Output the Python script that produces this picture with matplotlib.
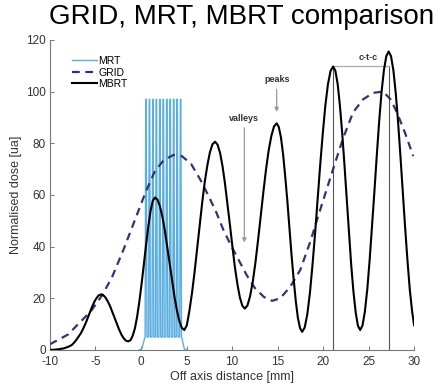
import matplotlib
matplotlib.use("Agg")
import matplotlib.pyplot as plt

plt.rcParams["font.family"] = ["Liberation Sans", "DejaVu Sans"]
plt.rcParams["axes.unicode_minus"] = False

# MBRT profile (black)
mbrt_x = [-10, -9.5, -9, -8.5, -8, -7.6, -7.3, -7.0, -6.6, -6.3, -6.0, -5.7, -5.4,
          -5.1, -4.9, -4.65, -4.4, -4.15, -3.9, -3.65, -3.4, -3.15, -2.9, -2.65,
          -2.4, -2.15, -1.9, -1.65, -1.4, -1.15, -0.91, -0.66, -0.42, -0.17, 0.08,
          0.32, 0.57, 0.81, 1.06, 1.3, 1.55, 1.82, 2.08, 2.35, 2.62, 2.88, 3.15,
          3.42, 3.68, 3.95, 4.22, 4.48, 4.75, 5.03, 5.31, 5.6, 5.88, 6.16, 6.44,
          6.72, 7.0, 7.29, 7.57, 7.85, 8.13, 8.4, 8.68, 8.95, 9.22, 9.49, 9.77,
          10.04, 10.31, 10.59, 10.86, 11.13, 11.4, 11.69, 11.98, 12.28, 12.57,
          12.86, 13.15, 13.44, 13.73, 14.02, 14.32, 14.61, 14.9, 15.13, 15.37,
          15.6, 15.83, 16.07, 16.3, 16.53, 16.77, 17.0, 17.23, 17.47, 17.7,
          17.98, 18.27, 18.55, 18.83, 19.12, 19.4, 19.68, 19.97, 20.25, 20.53,
          20.82, 21.1, 21.35, 21.6, 21.84, 22.09, 22.34, 22.59, 22.83, 23.08,
          23.33, 23.58, 23.82, 24.07, 24.33, 24.59, 24.85, 25.11, 25.37, 25.64,
          25.9, 26.16, 26.42, 26.68, 26.94, 27.2, 27.46, 27.72, 27.97, 28.23,
          28.49, 28.75, 29.01, 29.27, 29.52, 29.78, 30]
mbrt_y = [0, 0.1, 0.3, 0.6, 1.2, 1.9, 3.0, 4.4, 6.5, 8.6, 11, 13.8, 16.5,
          18.8, 20.0, 21.1, 21.5, 21.2, 20.3, 18.8, 17.0, 14.7, 12.4, 10.1,
          7.85, 5.95, 4.5, 3.6, 3.3, 3.8, 5.5, 8.5, 13, 19, 26,
          33.5, 41, 48, 54, 57.8, 59, 58.1, 55.6, 51.5, 46.2, 40.0, 33.4,
          26.7, 20.5, 15.2, 11.1, 8.6, 7.7, 9.5, 15, 22, 30, 39, 48,
          57, 65, 71.5, 76.5, 79.6, 80.6, 79.5, 76.3, 71.2, 64.5, 56.6, 48.3,
          40.0, 32.1, 25.4, 20.3, 17.1, 16, 17.2, 20.8, 26.5, 33.9,
          42.6, 51.9, 61.1, 69.8, 77.2, 82.9, 86.5, 87.7, 86.3, 82.3,
          75.9, 67.5, 57.8, 47.4, 36.9, 27.2, 18.9, 12.4, 8.4, 7,
          8.7, 13.9, 22.0, 32.7, 45.1, 58.4, 71.6, 84.0, 94.7, 102.8,
          108.0, 109.7, 108.0, 102.9, 94.8, 84.2, 71.9, 58.7, 45.5, 33.2,
          22.6, 14.5, 9.4, 7.7, 9.5, 14.9, 23.4, 34.7, 47.7, 61.6,
          75.5, 88.6, 99.8, 108.3, 113.7, 115.5, 113.7, 108.2, 99.7, 88.4,
          75.2, 61.3, 47.3, 34.4, 23.4, 14.8, 9.5]

# GRID profile (dashed)
grid_x = [-10, -8, -6.9, -5.5, -4.3, -3.2, -1.9, -0.7, 0.5, 1.5, 2.5, 3.6, 4.5,
          5.5, 6.5, 7.5, 8.3, 9.1, 10.1, 11.0, 11.6, 12.5, 13.5, 14.4, 15.3,
          16.4, 17.5, 18.6, 19.3, 20.2, 21.1, 22.2, 23.3, 24.4, 25.5, 26.6,
          27.4, 28.1, 29.0, 29.9]
grid_y = [2.2, 6, 10, 15, 21, 28, 39, 50, 61, 69, 73.5, 75.5, 75, 72, 66, 59,
          53, 46, 39, 33, 29, 24, 20.5, 19, 20, 24.5, 31, 42, 50, 60, 70, 82,
          92, 97, 99.5, 100, 97, 92, 84, 75]

# MRT microbeams
mrt_centers = [0.55, 0.93, 1.31, 1.69, 2.07, 2.45, 2.83, 3.21, 3.59, 3.97, 4.35]
mrt_peak = 97
mrt_valley = 5

mrt_x = [-0.2, 0.1, 0.4]
mrt_y = [0, 0.5, 4.5]
for c in mrt_centers:
    mrt_x += [c - 0.1, c - 0.025, c + 0.025, c + 0.1]
    mrt_y += [mrt_valley, mrt_peak, mrt_peak, mrt_valley]
mrt_x += [4.5, 4.75, 5.0]
mrt_y += [4.5, 0.5, 0]

ctc_left, ctc_right, ctc_level = 21.1, 27.2, 110

fig = plt.figure(figsize=(4.42, 3.91), dpi=100)
ax = fig.add_axes([0.113, 0.105, 0.824, 0.793])

ax.plot(mrt_x, mrt_y, color="#5aaee0", lw=1.0, label="MRT", zorder=2)
ax.plot(grid_x, grid_y, color="#2e3577", lw=1.6, dashes=(3.5, 2.5),
        label="GRID", zorder=3)
ax.plot(mbrt_x, mbrt_y, color="black", lw=1.5, label="MBRT", zorder=4,
        solid_joinstyle="round")

# centre-to-centre marker
ax.plot([ctc_left, ctc_left], [0, ctc_level], color="#555555", lw=0.8, zorder=1)
ax.plot([ctc_right, ctc_right], [0, ctc_level], color="#555555", lw=0.8, zorder=1)
ax.plot([ctc_left, ctc_right], [ctc_level, ctc_level], color="#aaaaaa", lw=0.9,
        zorder=1)
ax.text(25.0, 111.5, "c-t-c", fontsize=6.5, fontweight="bold", color="#333333",
        ha="center", va="bottom")

ax.annotate("", xy=(11.35, 40.5), xytext=(11.35, 87),
            arrowprops=dict(arrowstyle="-|>", color="#999999", lw=0.9,
                            mutation_scale=6))
ax.text(11.35, 88, "valleys", fontsize=6.5, fontweight="bold", color="#333333",
        ha="center", va="bottom")
ax.annotate("", xy=(14.9, 91), xytext=(14.9, 102),
            arrowprops=dict(arrowstyle="-|>", color="#999999", lw=0.9,
                            mutation_scale=6))
ax.text(14.9, 103, "peaks", fontsize=6.5, fontweight="bold", color="#333333",
        ha="center", va="bottom")

ax.set_xlim(-10, 30)
ax.set_ylim(0, 120)
ax.set_xticks(range(-10, 31, 5))
ax.set_yticks(range(0, 121, 20))
ax.spines["top"].set_visible(False)
ax.spines["right"].set_visible(False)
for s in ("left", "bottom"):
    ax.spines[s].set_color("#777777")
    ax.spines[s].set_linewidth(0.8)
ax.tick_params(direction="in", length=3, width=0.7, color="#777777",
               labelsize=8.5, labelcolor="#333333", pad=3)
ax.tick_params(axis="x", pad=4.5)
ax.set_xlabel("Off axis distance [mm]", fontsize=9, color="#333333", labelpad=2)
ax.set_ylabel("Normalised dose [ua]", fontsize=9, color="#333333", labelpad=3)

ax.legend(loc="upper left", bbox_to_anchor=(0.045, 0.965), frameon=False,
          fontsize=7.5, handlelength=2.4, handletextpad=0.15, borderpad=0,
          labelspacing=0.15)

fig.text(0.547, 0.99, "GRID, MRT, MBRT comparison", fontsize=20,
         ha="center", va="top")

fig.savefig("out.png", dpi=100)
